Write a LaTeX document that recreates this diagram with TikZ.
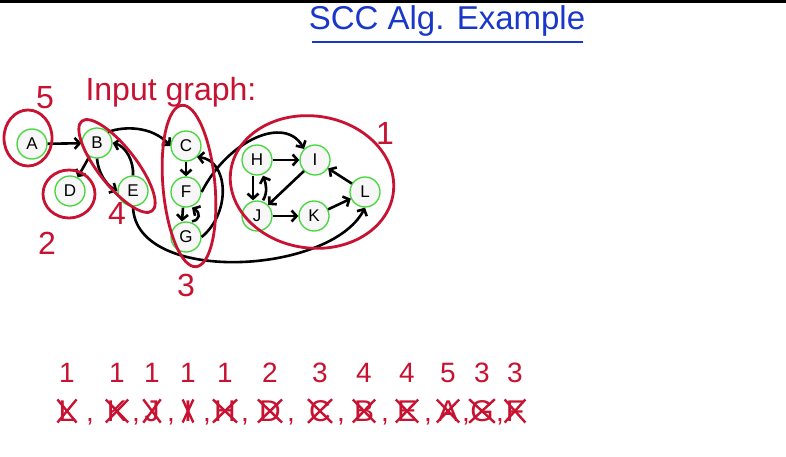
\documentclass[tikz,border=0pt]{standalone}
\usepackage{fontspec}
\setmainfont{Liberation Sans}
\usetikzlibrary{arrows.meta,shapes.misc}
\definecolor{penred}{RGB}{200,18,50}
\definecolor{penblue}{RGB}{25,55,200}
\definecolor{ringgreen}{RGB}{70,215,60}

\begin{document}
\begin{tikzpicture}[
    x=1pt, y=1pt,
    vertex/.style={circle, draw=ringgreen, fill=gray!6, line width=1.3pt, minimum size=30pt, inner sep=0pt, font=\fontsize{17}{17}\selectfont},
    edge/.style={-{Straight Barb[length=5pt,width=11pt]}, line width=2.6pt, black},
    ring/.style={penred, line width=2.8pt},
    tag/.style={text=penred, font=\fontsize{32}{32}\selectfont},
    rank/.style={text=penred, font=\fontsize{28}{28}\selectfont},
    comma/.style={text=penred, inner sep=0pt, font=\fontsize{28}{28}\selectfont},
    gone/.style={cross out, draw=penred, line width=2.4pt, text=penred, inner sep=0pt, font=\fontsize{30}{30}\selectfont}
]
\fill[white] (0,0) rectangle (786,-457);
\fill[black] (0,0) rectangle (786,-3);
% title
\node[text=penblue, font=\fontsize{33}{33}\selectfont] (title) at (447,-21) {SCC Alg. Example};
\draw[penblue, line width=2.8pt] (312,-42) -- (583,-42);
\node[tag, anchor=west] (caption) at (82,-92) {Input graph:};
% vertices
\node[vertex] (A) at (32,-144) {A};
\node[vertex] (B) at (97,-143) {B};
\node[vertex] (C) at (186,-146) {C};
\node[vertex] (D) at (70,-191) {D};
\node[vertex] (E) at (133,-191) {E};
\node[vertex] (F) at (186,-192) {F};
\node[vertex] (G) at (186,-237) {G};
\node[vertex] (H) at (257,-160) {H};
\node[vertex] (I) at (315,-160) {I};
\node[vertex] (J) at (257,-216) {J};
\node[vertex] (K) at (314,-216) {K};
\node[vertex] (L) at (365,-192) {L};
% edges
\draw[edge] (A) -- (B);
\draw[edge] (B) -- (D);
\draw[edge] (B.south) .. controls (98,-172) and (106,-185) .. (E.west);
\draw[edge] (E.north) .. controls (134,-162) and (126,-146) .. (B.east);
\draw[edge] (B.north east) .. controls (124,-126) and (152,-126) .. (C.west);
\draw[edge] (C) -- (F);
\draw[edge] ([xshift=-3pt]F.south) -- ([xshift=-4pt]G.north);
\draw[edge] ([xshift=6pt]G.north) .. controls (200,-220) and (201,-213) .. ([xshift=6pt]F.south);
\draw[edge] (G.east) .. controls (232,-212) and (228,-160) .. (C.south east);
\draw[edge] (F.east) .. controls (228,-140) and (285,-115) .. (I.north west);
\draw[edge] (E.south) .. controls (135,-285) and (330,-275) .. (L.south);
\draw[edge] (H) -- (I);
\draw[edge] ([xshift=-4pt]H.south) -- ([xshift=-4pt]J.north);
\draw[edge] ([xshift=6pt]J.north) .. controls (268,-192) and (266,-184) .. ([xshift=6pt]H.south);
\draw[edge] (I.south west) -- (J.north east);
\draw[edge] (J) -- (K);
\draw[edge] (K) -- (L);
\draw[edge] (L) -- (I);
% components
\draw[ring] (28,-138) ellipse (24 and 28);
\draw[ring] (69,-194) ellipse (26 and 24);
\draw[ring, rotate around={-52:(117,-166)}] (117,-166) ellipse (57 and 19);
\draw[ring, rotate around={5:(189,-186)}] (189,-186) ellipse (26 and 81);
\draw[ring, rotate around={-8:(312,-182)}] (312,-182) ellipse (82 and 66);
\node[tag] (t5) at (45,-98) {5};
\node[tag] (t2) at (47,-243) {2};
\node[tag] (t4) at (117,-213) {4};
\node[tag] (t3) at (186,-285) {3};
\node[tag] (t1) at (385,-133) {1};
% order of removal
\foreach \x/\n/\l [count=\i] in {67/1/L,117/1/K,152/1/J,188/1/I,225/1/H,270/2/D,320/3/C,364/4/B,407/4/E,448/5/A,482/3/G,515/3/F}{
  \node[rank] (n\i) at (\x,-373) {\n};
  \node[gone] (v\i) at (\x,-411) {\l};
}
\foreach \x in {90,136,171,207,245,291,341,385,428,466,500}
  \node[comma] at (\x,-422) {,};
\end{tikzpicture}
\end{document}
